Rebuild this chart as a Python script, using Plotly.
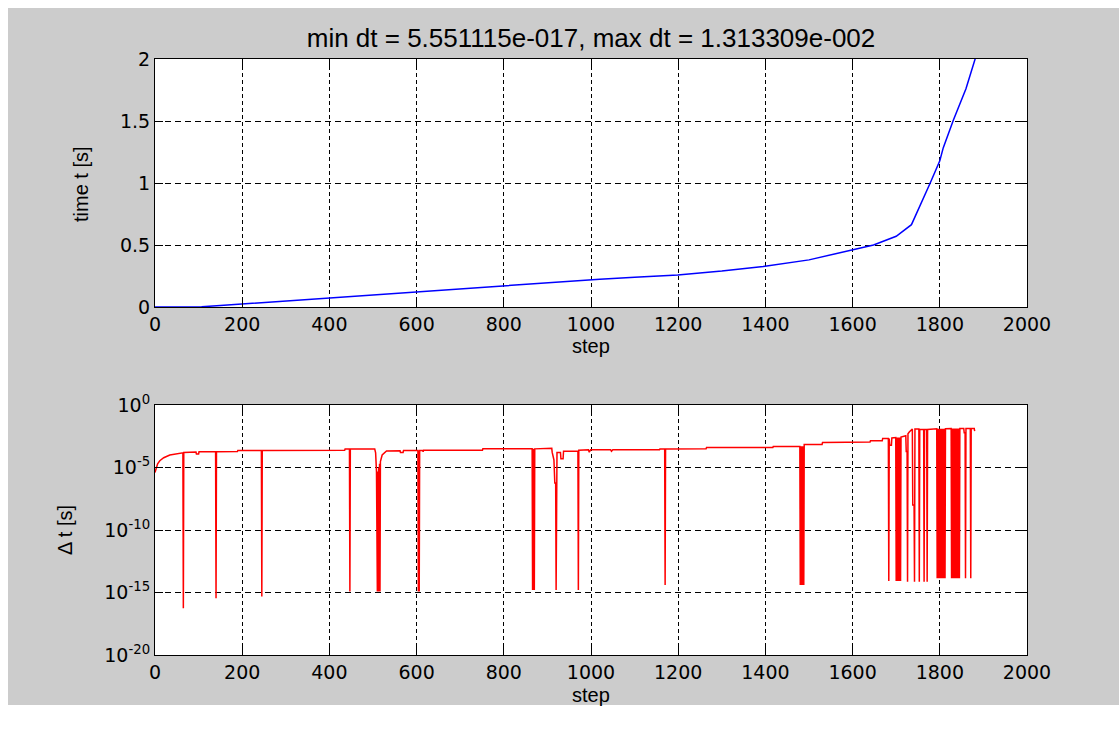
import plotly.graph_objects as go

# ---------------- data ----------------
step_ticks = [0, 200, 400, 600, 800, 1000, 1200, 1400, 1600, 1800, 2000]
t_ticks = [0, 0.5, 1, 1.5, 2]
t_tick_text = ["0", "0.5", "1", "1.5", "2"]
dt_ticks = [1e-20, 1e-15, 1e-10, 1e-5, 1e0]
dt_tick_text = ["10<sup>-20</sup>", "10<sup>-15</sup>", "10<sup>-10</sup>",
                "10<sup>-5</sup>", "10<sup>0</sup>"]

# time t [s] versus step
t_step = [0, 50, 107, 150, 199, 300, 397, 500, 600, 700, 799, 883, 1020, 1100,
          1199, 1300, 1395, 1500, 1598, 1648, 1700, 1735, 1778, 1800, 1808,
          1831, 1860, 1881, 1888]
t_value = [0, 0.0, 0.002, 0.012, 0.024, 0.05, 0.075, 0.097, 0.119, 0.144, 0.17,
           0.192, 0.224, 0.24, 0.259, 0.29, 0.327, 0.38, 0.456, 0.50, 0.57,
           0.664, 1.0, 1.18, 1.285, 1.506, 1.76, 2.0, 2.08]

# time step dt [s] versus step  (step, dt)
dt_points = [
    (0, 4e-6), (3, 1e-5), (6, 2e-5), (11, 3.5e-5), (20, 6e-5), (34, 1e-4),
    (50, 1.3e-4), (64, 1.5e-4), (65, 5.5e-17), (66, 1.6e-4), (94, 1.7e-4),
    (95, 1.2e-4), (100, 1.2e-4), (101, 1.8e-4), (139, 1.8e-4), (140, 3.4e-16),
    (141, 1.8e-4), (189, 1.9e-4), (190, 2.3e-4), (244, 2.3e-4), (245, 4.7e-16),
    (246, 2.3e-4), (435, 2.4e-4), (436, 3e-4), (446, 3e-4), (447, 1.2e-15),
    (448, 3e-4), (504, 3e-4), (506, 1.5e-4), (508, 4.7e-6), (510, 1.2e-15),
    (511, 4.7e-6), (512, 1.2e-15), (513, 1e-5), (514, 1.2e-15), (515, 2e-5),
    (516, 1.2e-15), (517, 3e-5), (521, 1e-4), (526, 1.6e-4), (531, 2.1e-4),
    (562, 2.2e-4), (563, 1.6e-4), (569, 1.6e-4), (570, 2.3e-4), (603, 2.3e-4),
    (604, 1.2e-15), (605, 2.3e-4), (606, 1.2e-15), (607, 2.3e-4), (614, 2.3e-4),
    (615, 1.8e-4), (616, 2.4e-4), (751, 2.4e-4), (752, 3.1e-4), (865, 3.1e-4),
    (866, 1.6e-15), (867, 3.1e-4), (868, 1.6e-15), (869, 3.1e-4), (870, 1.6e-15),
    (871, 3.1e-4), (886, 3.1e-4), (887, 3.4e-4), (910, 3.4e-4), (911, 1.6e-4),
    (915, 4e-5), (917, 5.7e-7), (919, 5.7e-7), (920, 1.6e-15), (921, 5.7e-7),
    (922, 1.6e-4), (930, 1.6e-4), (931, 5e-5), (936, 5e-5), (937, 2e-4),
    (970, 2e-4), (971, 1.6e-15), (972, 2.4e-4), (994, 2.6e-4), (996, 1.7e-4),
    (999, 2.6e-4), (1045, 2.6e-4), (1047, 2e-4), (1050, 2.6e-4), (1157, 2.6e-4),
    (1158, 3e-4), (1169, 3e-4), (1170, 4e-15), (1171, 3e-4), (1264, 3.1e-4),
    (1265, 3.9e-4), (1417, 3.9e-4), (1418, 4.7e-4), (1479, 4.7e-4),
    (1480, 4e-15), (1481, 5e-4), (1482, 4e-15), (1483, 5e-4), (1484, 4e-15),
    (1485, 5e-4), (1486, 4e-15), (1487, 5e-4), (1488, 4e-15),
    (1489, 7e-4), (1530, 7e-4), (1531, 1e-3), (1601, 1e-3),
    (1602, 1.1e-3), (1640, 1.1e-3), (1641, 1.4e-3), (1668, 1.4e-3),
    (1669, 2.1e-3), (1682, 2.1e-3), (1683, 8.3e-15), (1684, 2.1e-3),
    (1685, 6e-4), (1689, 6e-4), (1690, 2.3e-3), (1699, 2.5e-3),
    (1700, 8.3e-15), (1701, 2.5e-3), (1702, 8.3e-15), (1703, 2.5e-3),
    (1704, 8.3e-15), (1705, 2.5e-3), (1706, 8.3e-15), (1707, 2.5e-3),
    (1708, 8.3e-15), (1709, 2.5e-3), (1710, 8.3e-15), (1711, 2.7e-3),
    (1719, 3e-3), (1722, 3.5e-3), (1723, 1.9e-4), (1725, 1.9e-4),
    (1726, 7.4e-15), (1727, 5e-3), (1730, 7e-3), (1735, 1e-2), (1737, 1.2e-2),
    (1738, 1e-8), (1741, 1e-8), (1742, 7.4e-15), (1743, 1.2e-2), (1752, 1.2e-2),
    (1753, 7.4e-15), (1754, 1.1e-2), (1763, 1.1e-2), (1764, 7.4e-15),
    (1765, 1.1e-2), (1770, 1.1e-2), (1771, 7.4e-15), (1772, 1.1e-2),
    (1788, 1.2e-2), (1793, 1.25e-2),
    (1794, 1.35e-14), (1795, 1.25e-2), (1796, 1.35e-14), (1797, 1.25e-2),
    (1798, 1.35e-14), (1799, 1.25e-2), (1800, 1.35e-14), (1801, 1.25e-2),
    (1802, 1.35e-14), (1803, 1.25e-2), (1804, 1.35e-14), (1805, 1.25e-2),
    (1806, 1.35e-14), (1807, 1.25e-2), (1808, 1.35e-14), (1809, 1.25e-2),
    (1810, 1.35e-14), (1811, 1.25e-2), (1812, 1.35e-14), (1813, 1.25e-2),
    (1826, 1.3e-2),
    (1827, 1.35e-14), (1828, 1.3e-2), (1829, 1.35e-14), (1830, 1.3e-2),
    (1831, 1.35e-14), (1832, 1.3e-2), (1833, 1.35e-14), (1834, 1.3e-2),
    (1835, 1.35e-14), (1836, 1.3e-2), (1837, 1.35e-14), (1838, 1.3e-2),
    (1839, 1.35e-14), (1840, 1.3e-2), (1841, 1.35e-14), (1842, 1.3e-2),
    (1843, 1.35e-14), (1844, 1.3e-2), (1845, 1.35e-14), (1846, 1.3e-2),
    (1855, 1.3e-2), (1856, 6e-3), (1858, 6e-3), (1859, 1.35e-14),
    (1860, 1.3e-2), (1870, 1.3e-2), (1871, 1.35e-14), (1872, 1.3e-2),
    (1876, 1.31e-2), (1879, 1.31e-2), (1880, 8e-3),
]
dt_step = [p[0] for p in dt_points]
dt_value = [p[1] for p in dt_points]

title_text = "min dt = 5.551115e-017, max dt = 1.313309e-002"
x_label = "step"
y1_label = "time t [s]"
y2_label = "Δ t [s]"

# ---------------- figure ----------------
BG = "#cccccc"
W, H, L, R, T, B = 1119, 731, 155, 92, 59, 76
pw, ph = W - L - R, H - T - B

def px(x):
    return (x - L) / pw

def py(y):
    return (H - B - y) / ph

tick_font = dict(family="DejaVu Sans", size=19, color="black")
label_font = dict(family="Liberation Sans, Arial", size=20, color="black")
title_font = dict(family="Liberation Sans, Arial", size=26, color="black")

fig = go.Figure()
fig.add_trace(go.Scatter(x=t_step, y=t_value, mode="lines",
                         line=dict(color="#0000ff", width=1.5),
                         xaxis="x", yaxis="y", showlegend=False))
fig.add_trace(go.Scatter(x=dt_step, y=dt_value, mode="lines",
                         line=dict(color="#ff0000", width=1.5),
                         xaxis="x2", yaxis="y2", showlegend=False))

common = dict(showline=True, linecolor="black", linewidth=1, mirror="allticks",
              ticks="inside", ticklen=8, tickcolor="black", tickwidth=1,
              showgrid=True, gridcolor="black", gridwidth=1, zeroline=False,
              tickfont=tick_font)

fig.update_layout(
    width=W, height=H,
    margin=dict(l=L, r=R, t=T, b=B),
    paper_bgcolor=BG, plot_bgcolor="white",
    title=dict(text=title_text, x=0.5, xref="paper", xanchor="center",
               y=1 - 38 / H, yref="container", yanchor="middle",
               font=title_font),
    xaxis=dict(domain=[0, 1], range=[0, 2000], tickvals=step_ticks,
               anchor="y", griddash="4px,3px", **common),
    yaxis=dict(domain=[py(307), 1], range=[0, 2], tickvals=t_ticks,
               ticktext=t_tick_text, anchor="x", griddash="6px,4px", **common),
    xaxis2=dict(domain=[0, 1], range=[0, 2000], tickvals=step_ticks,
                anchor="y2", griddash="4px,3px", **common),
    yaxis2=dict(domain=[0, py(405)], type="log", range=[-20, 0],
                tickvals=dt_ticks, ticktext=dt_tick_text, anchor="x2",
                griddash="6px,4px", **common),
)

# axis labels placed as in the reference
for text, x, y, ang in [(x_label, 591, 346, 0), (x_label, 591, 695, 0),
                        (y1_label, 81, 184, -90), (y2_label, 65, 530, -90)]:
    fig.add_annotation(text=text, xref="paper", yref="paper", x=px(x), y=py(y),
                       xanchor="center", yanchor="middle", showarrow=False,
                       textangle=ang, font=label_font)

# white strips around the grey figure area (as in the screenshot)
for x0, x1, y0, y1 in [(0, 8, 0, H), (0, W, 0, 8), (0, W, 705, H)]:
    fig.add_shape(type="rect", xref="paper", yref="paper",
                  x0=px(x0), x1=px(x1), y0=py(y1), y1=py(y0),
                  fillcolor="white", line=dict(width=0), layer="below")

fig.write_html("out.html")
